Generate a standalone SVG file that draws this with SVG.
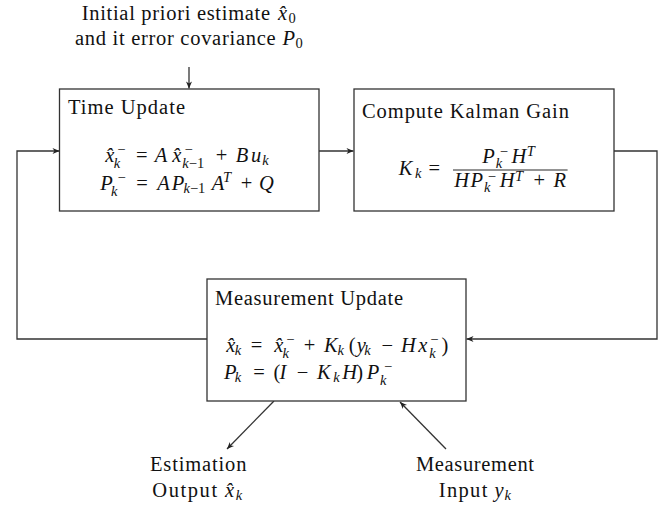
<svg xmlns="http://www.w3.org/2000/svg" width="672" height="505" viewBox="0 0 672 505">
<defs>
<style>
.box{fill:#fff;stroke:#333;stroke-width:1.3}
.ln{fill:none;stroke:#333;stroke-width:1.3}
.t{font-family:"Liberation Serif","Times New Roman",serif;font-size:20.5px;fill:#111}
.m{font-family:"Liberation Serif","Times New Roman",serif;font-size:20.5px;font-style:italic;fill:#111;text-anchor:middle}
.up{font-style:normal}
.s{font-size:14.5px}
</style>
<marker id="arr" markerUnits="userSpaceOnUse" markerWidth="10" markerHeight="10" viewBox="0 0 10 10" refX="8" refY="5" orient="auto">
<path d="M1,2 L8,5 L1,8 L3,5 Z" fill="#222"/>
</marker>
</defs>
<rect width="672" height="505" fill="#fff"/>

<g id="connectors">
<line class="ln" x1="189" y1="67" x2="189" y2="88.5" marker-end="url(#arr)"/>
<line class="ln" x1="319" y1="151" x2="353.5" y2="151" marker-end="url(#arr)"/>
<polyline class="ln" points="614,151 657,151 657,339 466.5,339" marker-end="url(#arr)"/>
<polyline class="ln" points="207,339 17,339 17,151 59.5,151" marker-end="url(#arr)"/>
<line class="ln" x1="274" y1="401" x2="227" y2="449" marker-end="url(#arr)"/>
<line class="ln" x1="446" y1="449" x2="400" y2="402" marker-end="url(#arr)"/>
</g>

<g id="initial-estimate">
<text class="t" x="81.7" y="20" textLength="188.4">Initial priori estimate</text>
<text class="m"><tspan x="282.5" y="20">x̂</tspan><tspan class="up s" x="292" y="23">0</tspan></text>
<text class="t" x="74.9" y="45" textLength="200.7">and it error covariance</text>
<text class="m"><tspan x="288.8" y="45">P</tspan><tspan class="up s" x="299" y="48">0</tspan></text>
</g>

<g id="time-update">
<rect class="box" x="59.5" y="89" width="259.5" height="122"/>
<text class="t" x="68" y="114" textLength="117">Time Update</text>
<text class="m">
<tspan x="109.9" y="162">x̂</tspan><tspan class="up s" x="121.4" y="153.5">−</tspan><tspan class="s" x="119.5" y="167.5">k</tspan>
<tspan class="up" x="141.8" y="162">=</tspan><tspan x="163.3" y="162">A</tspan>
<tspan x="176.9" y="162">x̂</tspan><tspan class="up s" x="188.5" y="153.5">−</tspan><tspan class="s" x="195.8" y="167.5">k<tspan class="up">−1</tspan></tspan>
<tspan class="up" x="221.5" y="162">+</tspan><tspan x="242" y="162">B</tspan><tspan x="256" y="162">u</tspan><tspan class="s" x="265.5" y="165">k</tspan>
</text>
<text class="m">
<tspan x="106.5" y="190">P</tspan><tspan class="up s" x="121.5" y="181.5">−</tspan><tspan class="s" x="116.9" y="195.5">k</tspan>
<tspan class="up" x="142" y="190">=</tspan><tspan x="163.5" y="190">A</tspan><tspan x="177.9" y="190">P</tspan><tspan class="s" x="197" y="193">k<tspan class="up">−1</tspan></tspan>
<tspan x="218" y="190">A</tspan><tspan class="s" x="229.5" y="181.5">T</tspan>
<tspan class="up" x="246.5" y="190">+</tspan><tspan x="266.5" y="190">Q</tspan>
</text>
</g>

<g id="kalman-gain">
<rect class="box" x="354" y="89" width="260" height="122"/>
<text class="t" x="362" y="118" textLength="207">Compute Kalman Gain</text>
<text class="m">
<tspan x="405.7" y="175">K</tspan><tspan class="s" x="418.3" y="178">k</tspan><tspan class="up" x="436.8" y="175">=</tspan>
<tspan x="488.6" y="163">P</tspan><tspan class="up s" x="503.8" y="155.5">−</tspan><tspan class="s" x="499" y="168">k</tspan><tspan x="518.9" y="163">H</tspan><tspan class="s" x="533.3" y="155.5">T</tspan>
<tspan x="461.6" y="187">H</tspan><tspan x="476.8" y="187">P</tspan><tspan class="up s" x="491.9" y="181">−</tspan><tspan class="s" x="487.2" y="192">k</tspan><tspan x="507.1" y="187">H</tspan><tspan class="s" x="521.5" y="181">T</tspan>
<tspan class="up" x="539.3" y="187">+</tspan><tspan x="559.7" y="187">R</tspan>
</text>
<line x1="453" y1="170" x2="567.6" y2="170" stroke="#111" stroke-width="0.9"/>
</g>

<g id="measurement-update">
<rect class="box" x="207" y="279" width="259" height="122"/>
<text class="t" x="215" y="305" textLength="188">Measurement Update</text>
<text class="m">
<tspan x="230.9" y="352">x̂</tspan><tspan class="s" x="240.5" y="355">k</tspan>
<tspan class="up" x="259.1" y="352">=</tspan>
<tspan x="278.8" y="352">x̂</tspan><tspan class="up s" x="290.3" y="343.5">−</tspan><tspan class="s" x="288.4" y="357.5">k</tspan>
<tspan class="up" x="309.5" y="352">+</tspan><tspan x="330.8" y="352">K</tspan><tspan class="s" x="343.3" y="355">k</tspan>
<tspan class="up" x="352.1" y="352">(</tspan><tspan x="361.2" y="352">y</tspan><tspan class="s" x="370" y="355">k</tspan>
<tspan class="up" x="387.3" y="352">−</tspan><tspan x="408.4" y="352">H</tspan><tspan x="422.9" y="352">x</tspan><tspan class="up s" x="434.4" y="343.5">−</tspan><tspan class="s" x="432.5" y="357.5">k</tspan><tspan class="up" x="445" y="352">)</tspan>
</text>
<text class="m">
<tspan x="230.2" y="379">P</tspan><tspan class="s" x="240.6" y="382">k</tspan>
<tspan class="up" x="259.1" y="379">=</tspan><tspan class="up" x="276.9" y="379">(</tspan><tspan x="285.5" y="379">I</tspan>
<tspan class="up" x="302.6" y="379">−</tspan><tspan x="323.9" y="379">K</tspan><tspan class="s" x="336.4" y="382">k</tspan><tspan x="349.7" y="379">H</tspan><tspan class="up" x="362.3" y="379">)</tspan>
<tspan x="372.9" y="379">P</tspan><tspan class="up s" x="388.1" y="370.5">−</tspan><tspan class="s" x="383.3" y="384.5">k</tspan>
</text>
</g>

<g id="estimation-output">
<text class="t" x="150" y="471" textLength="96.4">Estimation</text>
<text class="t" x="152.3" y="497" textLength="64.8">Output</text>
<text class="m"><tspan x="229.5" y="497">x̂</tspan><tspan class="s" x="239" y="500">k</tspan></text>
</g>

<g id="measurement-input">
<text class="t" x="416" y="471" textLength="118">Measurement</text>
<text class="t" x="438.8" y="497" textLength="48.6">Input</text>
<text class="m"><tspan x="499" y="497">y</tspan><tspan class="s" x="507.6" y="500">k</tspan></text>
</g>
</svg>
